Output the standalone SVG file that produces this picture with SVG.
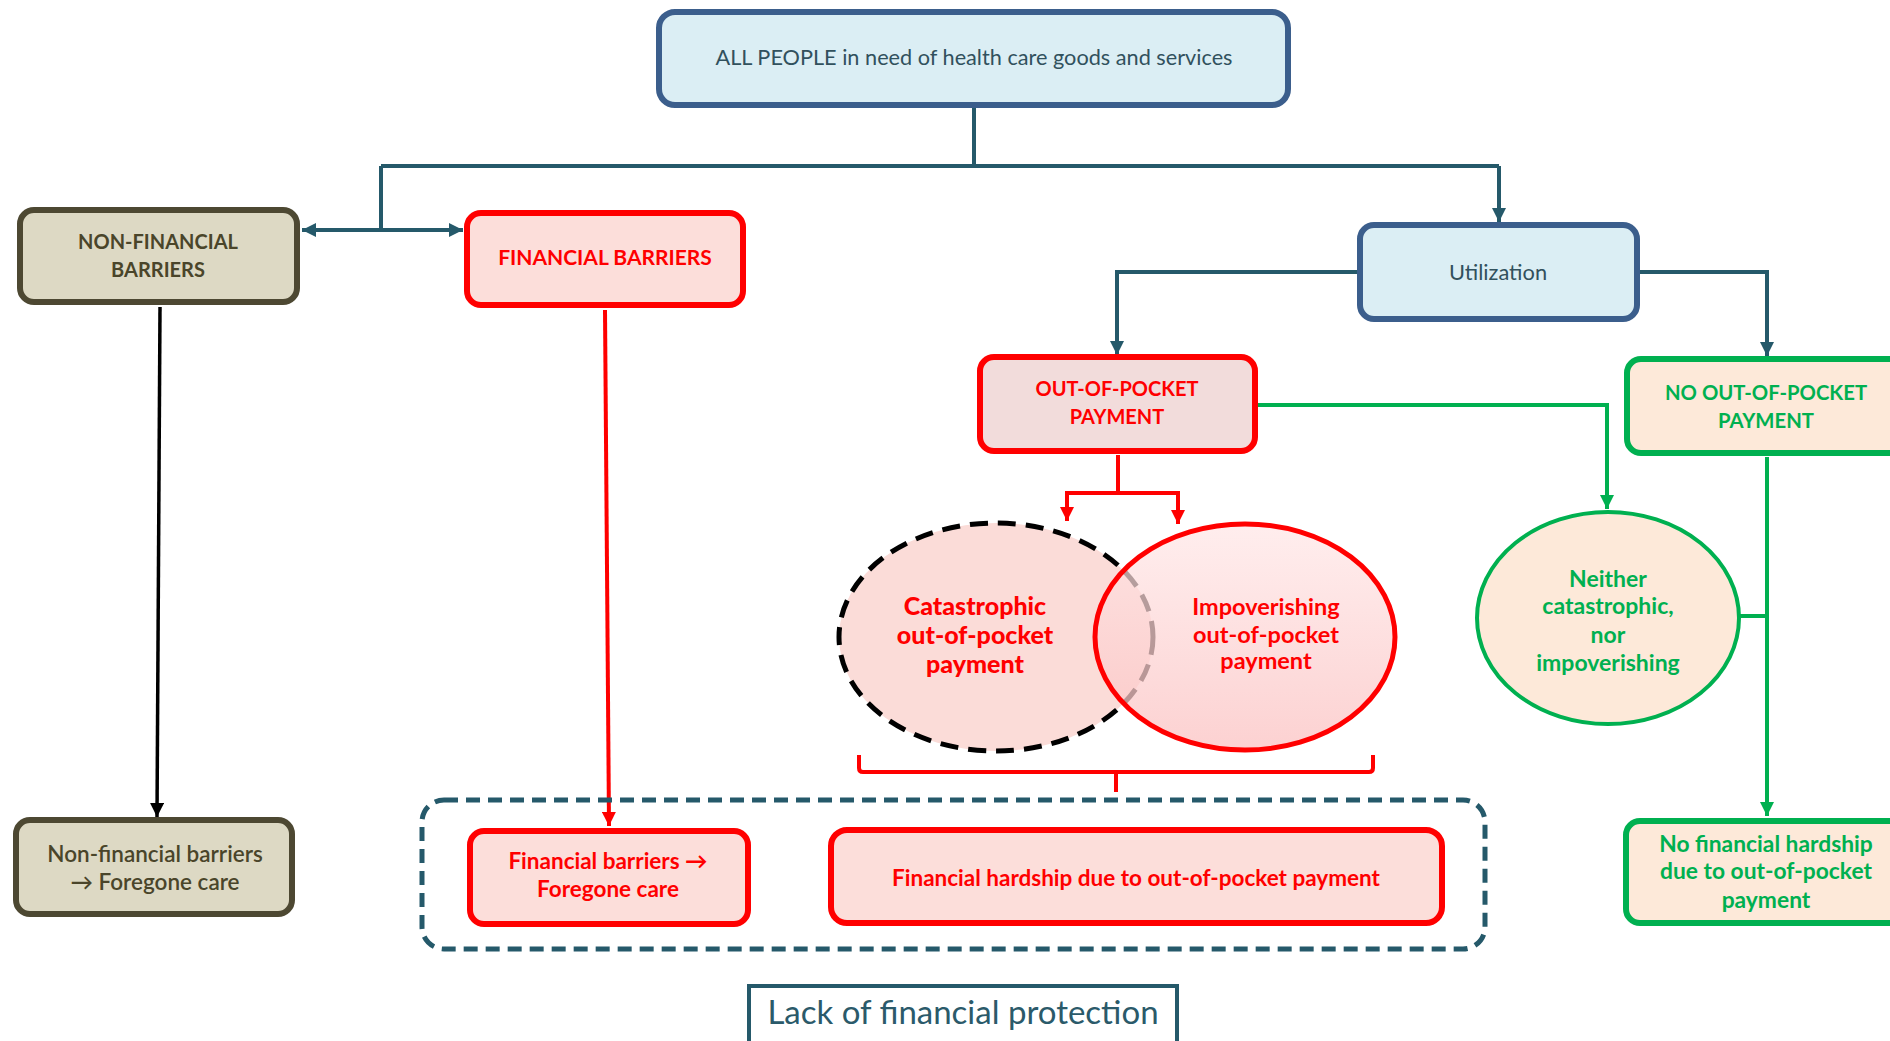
<svg xmlns="http://www.w3.org/2000/svg" width="1890" height="1041" viewBox="0 0 1890 1041">
<style>
text{font-family:Lato,"Liberation Sans",sans-serif;text-anchor:middle}
.box{stroke-width:6}
.blue{fill:#DBEEF4;stroke:#3B5E8C}
.olive{fill:#DDD9C4;stroke:#4D4832}
.red{fill:#FCDEDA;stroke:#FF0000}
.green{fill:#FDE9D9;stroke:#00B050}
.tblue{fill:#31515D;font-size:21.7px}
.tolive{fill:#4A452A;font-size:20px;font-weight:bold}
.tred{fill:#FF0000;font-size:20.5px;font-weight:bold}
.tgreen{fill:#00B050;font-size:20.3px;font-weight:bold}
.teal{fill:none;stroke:#25596A;stroke-width:4}
.cred{fill:none;stroke:#FF0000;stroke-width:4}
.cgreen{fill:none;stroke:#00B050;stroke-width:4}
</style>
<defs>
<marker id="aT" markerUnits="userSpaceOnUse" markerWidth="14" markerHeight="14" viewBox="0 0 10 10" refX="10" refY="5" orient="auto-start-reverse"><path d="M0,0 L10,5 L0,10 z" fill="#25596A"/></marker>
<marker id="aR" markerUnits="userSpaceOnUse" markerWidth="14" markerHeight="14" viewBox="0 0 10 10" refX="10" refY="5" orient="auto"><path d="M0,0 L10,5 L0,10 z" fill="#FF0000"/></marker>
<marker id="aG" markerUnits="userSpaceOnUse" markerWidth="14" markerHeight="14" viewBox="0 0 10 10" refX="10" refY="5" orient="auto"><path d="M0,0 L10,5 L0,10 z" fill="#00B050"/></marker>
<marker id="aK" markerUnits="userSpaceOnUse" markerWidth="14" markerHeight="14" viewBox="0 0 10 10" refX="10" refY="5" orient="auto"><path d="M0,0 L10,5 L0,10 z" fill="#000000"/></marker>
<linearGradient id="gImp" x1="0" y1="0" x2="0" y2="1">
<stop offset="0" stop-color="#FFE6E6" stop-opacity="0.7"/>
<stop offset="1" stop-color="#FBC2C2" stop-opacity="0.75"/>
</linearGradient>
</defs>

<g id="connectors">
<path class="teal" d="M974,106 V166 M381,166 H1499 M381,166 V230"/>
<path class="teal" d="M1499,166 V222" marker-end="url(#aT)"/>
<path class="teal" d="M302,230 H463" stroke-width="5" marker-start="url(#aT)" marker-end="url(#aT)"/>
<path class="teal" d="M1358,272 H1117 V355" marker-end="url(#aT)"/>
<path class="teal" d="M1639,272 H1767 V356" marker-end="url(#aT)"/>
<path fill="none" stroke="#000" stroke-width="3.5" d="M160,307 L157,817" marker-end="url(#aK)"/>
<path class="cred" stroke-width="3" d="M605,310 L609,826" marker-end="url(#aR)"/>
<path class="cred" d="M1118,455 V493 M1067,493 H1178"/>
<path class="cred" d="M1067,491 V521" marker-end="url(#aR)"/>
<path class="cred" d="M1178,491 V524" marker-end="url(#aR)"/>
<path class="cgreen" d="M1258,405 H1607 V509" marker-end="url(#aG)"/>
<path class="cgreen" d="M1767,457 V816" marker-end="url(#aG)"/>
<path class="cgreen" d="M1740,616 H1767"/>
<path class="cred" stroke-width="5" d="M859,755 V768 Q859,772 863,772 H1369 Q1373,772 1373,768 V755 M1116,772 V792"/>
</g>

<g id="group-lack">
<rect x="422" y="800" width="1063" height="149" rx="22" fill="none" stroke="#25596A" stroke-width="5" stroke-dasharray="14 8"/>
</g>

<g id="node-all">
<rect class="box blue" x="659" y="12" width="629" height="93" rx="16"/>
<text class="tblue" x="974" y="65">ALL PEOPLE in need of health care goods and services</text>
</g>

<g id="node-nonfin">
<rect class="box olive" x="20" y="210" width="277" height="92" rx="14"/>
<text class="tolive" x="158" y="249">NON-FINANCIAL</text>
<text class="tolive" x="158" y="277">BARRIERS</text>
</g>

<g id="node-fin">
<rect class="box red" x="467" y="213" width="276" height="92" rx="14"/>
<text class="tred" style="font-size:21px" x="605" y="265">FINANCIAL BARRIERS</text>
</g>

<g id="node-util">
<rect class="box blue" x="1360" y="225" width="277" height="94" rx="14" stroke-width="5"/>
<text class="tblue" style="font-size:21.8px" x="1498" y="280">Utilization</text>
</g>

<g id="node-oop">
<rect class="box red" x="980" y="357" width="275" height="94" rx="14" style="fill:#F2DCDB"/>
<text class="tred" style="font-size:20px" x="1117" y="396">OUT-OF-POCKET</text>
<text class="tred" style="font-size:20px" x="1117" y="424">PAYMENT</text>
</g>

<g id="node-nooop">
<rect class="box green" x="1627" y="359" width="290" height="94" rx="14"/>
<text class="tgreen" x="1766" y="400">NO OUT-OF-POCKET</text>
<text class="tgreen" x="1766" y="428">PAYMENT</text>
</g>

<g id="node-catastrophic">
<ellipse cx="996" cy="637" rx="157" ry="114" fill="#FBDCD8" stroke="#000" stroke-width="5" stroke-dasharray="18 10"/>
<text class="tred" style="font-size:25px;font-weight:900" x="975" y="615">Catastrophic</text>
<text class="tred" style="font-size:25px;font-weight:900" x="975" y="644">out-of-pocket</text>
<text class="tred" style="font-size:25px;font-weight:900" x="975" y="673">payment</text>
</g>

<g id="node-impoverishing">
<ellipse cx="1245" cy="637" rx="150" ry="113" fill="url(#gImp)" stroke="#FF0000" stroke-width="5"/>
<text class="tred" style="font-size:23.5px" x="1266" y="615">Impoverishing</text>
<text class="tred" style="font-size:23.5px" x="1266" y="643">out-of-pocket</text>
<text class="tred" style="font-size:23.5px" x="1266" y="669">payment</text>
</g>

<g id="node-neither">
<ellipse cx="1608" cy="618" rx="131" ry="106" fill="#FDE9D9" stroke="#00B050" stroke-width="4"/>
<text class="tgreen" style="font-size:23px" x="1608" y="587">Neither</text>
<text class="tgreen" style="font-size:23px" x="1608" y="614">catastrophic,</text>
<text class="tgreen" style="font-size:23px" x="1608" y="643">nor</text>
<text class="tgreen" style="font-size:23px" x="1608" y="671">impoverishing</text>
</g>

<g id="node-nonfin-foregone">
<rect class="box olive" x="16" y="820" width="276" height="94" rx="14"/>
<text class="tolive" style="font-size:22.5px;font-weight:600" x="155" y="862">Non-financial barriers</text>
<text class="tolive" style="font-size:22.5px;font-weight:600" x="155" y="890">→ Foregone care</text>
</g>

<g id="node-fin-foregone">
<rect class="box red" x="470" y="831" width="278" height="93" rx="14"/>
<text class="tred" style="font-size:22.5px" x="608" y="869">Financial barriers →</text>
<text class="tred" style="font-size:22.5px" x="608" y="897">Foregone care</text>
</g>

<g id="node-hardship">
<rect class="box red" x="831" y="830" width="611" height="93" rx="16"/>
<text class="tred" style="font-size:22.5px" x="1136" y="886">Financial hardship due to out-of-pocket payment</text>
</g>

<g id="node-nohardship">
<rect class="box green" x="1626" y="821" width="290" height="102" rx="14"/>
<text class="tgreen" style="font-size:22.8px" x="1766" y="852">No financial hardship</text>
<text class="tgreen" style="font-size:22.8px" x="1766" y="879">due to out-of-pocket</text>
<text class="tgreen" style="font-size:22.8px" x="1766" y="908">payment</text>
</g>

<g id="node-lack">
<rect x="749" y="986" width="428" height="80" fill="#FFFFFF" stroke="#25596A" stroke-width="4"/>
<text x="963" y="1024" style="fill:#2B5A6A;font-size:33px">Lack of financial protection</text>
</g>
</svg>
